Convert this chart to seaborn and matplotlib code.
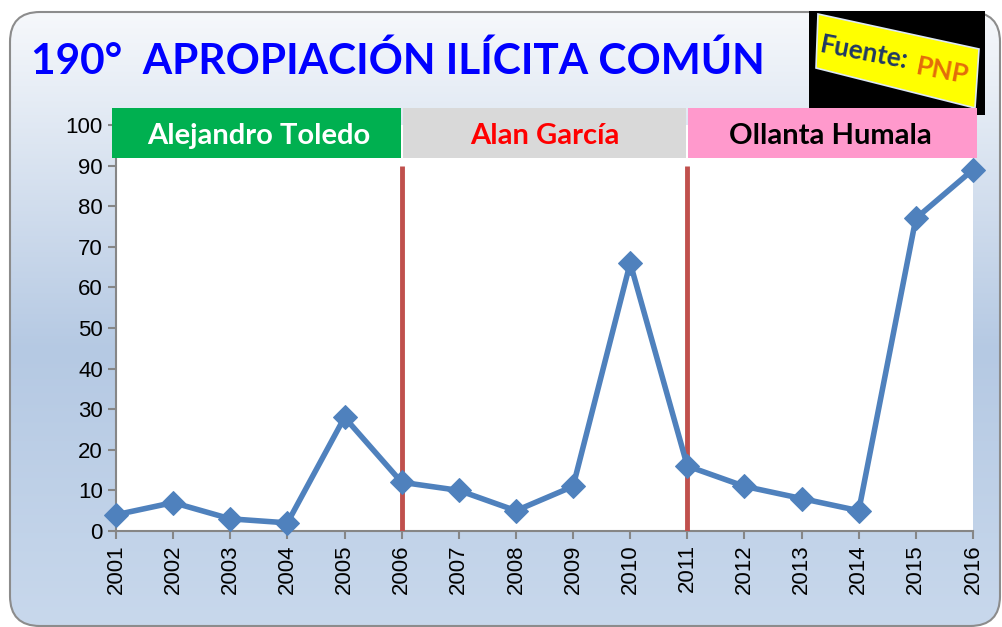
import matplotlib.pyplot as plt
import numpy as np
import pandas
import seaborn as sns
from matplotlib.colors import LinearSegmentedColormap
from matplotlib.patches import FancyBboxPatch, Polygon, Rectangle

sns.set_style("white")
plt.rcParams["font.family"] = ["Lato", "DejaVu Sans"]

YEARS = [2001, 2002, 2003, 2004, 2005, 2006, 2007, 2008,
         2009, 2010, 2011, 2012, 2013, 2014, 2015, 2016]
CASES = [4, 7, 3, 2, 28, 12, 10, 5, 11, 66, 16, 11, 8, 5, 77, 89]

TITLE = "190°  APROPIACIÓN ILÍCITA COMÚN"
PRESIDENTS = ["Alejandro Toledo", "Alan García", "Ollanta Humala"]
TERM_START = [2001, 2006, 2011]
TERM_END = [2006, 2011, 2016]
BANNER_FILL = ["#00b050", "#d9d9d9", "#ff99cc"]
BANNER_TEXT = ["white", "#ff0000", "black"]
CHANGE_YEARS = [2006, 2011]

W, H = 1003, 627
df = pandas.DataFrame({"year": YEARS, "cases": CASES})

fig = plt.figure(figsize=(W / 100, H / 100), dpi=100)
fig.patch.set_facecolor("white")

# background panel with gradient, in pixel coords
bg = fig.add_axes([0, 0, 1, 1], zorder=0)
bg.set_xlim(0, W)
bg.set_ylim(H, 0)
bg.axis("off")
grad_cmap = LinearSegmentedColormap.from_list(
    "panel", [(0, "#f6f8fb"), (0.12, "#e8eef6"), (0.55, "#b5c9e3"), (1, "#c8d8ec")]
)
grad = np.linspace(0, 1, 256).reshape(-1, 1)
panel = FancyBboxPatch((10, 12), 990, 614, boxstyle="round,pad=0,rounding_size=30",
                       facecolor="none", edgecolor="#8c8c8c", linewidth=1.5)
bg.add_patch(panel)
img = bg.imshow(grad, cmap=grad_cmap, extent=(10, 1000, 626, 12), aspect="auto")
img.set_clip_path(panel)

bg.text(31, 61, TITLE, color="#0000ff", fontsize=30.5, fontweight="bold",
        va="center", ha="left")

# source badge
bg.add_patch(Rectangle((809, 11), 176, 104, facecolor="black", edgecolor="none"))
bg.add_patch(Polygon([(818, 14), (979, 49), (975, 108), (816, 68)], closed=True,
                     facecolor="#ffff00", edgecolor="#dde8f4", linewidth=1.2))
bg.text(864, 53, "Fuente:", color="#1f3864", fontsize=19, fontweight="bold",
        rotation=-11, ha="center", va="center", rotation_mode="anchor")
bg.text(942, 71, "PNP", color="#e36c0a", fontsize=19, fontweight="bold",
        rotation=-11, ha="center", va="center", rotation_mode="anchor")

# main chart
ax = fig.add_axes([116 / W, 1 - 531 / H, 857 / W, 406 / H], zorder=2)
ax.set_facecolor("white")
sns.lineplot(data=df, x="year", y="cases", ax=ax, color="#4f81bd", linewidth=4,
             marker="D", markersize=12, markeredgecolor="#4f81bd", clip_on=False, zorder=4)
ax.vlines(CHANGE_YEARS, 0, 90, color="#c0504d", linewidth=3.5, zorder=3)

ax.set_xlim(2001, 2016)
ax.set_ylim(0, 100)
ax.set_xticks(YEARS)
ax.set_xticklabels([str(y) for y in YEARS], rotation=90, family="Liberation Sans")
ax.set_yticks(range(0, 101, 10))
ax.set_yticklabels([str(v) for v in range(0, 101, 10)], family="Liberation Sans")
ax.set_xlabel("")
ax.set_ylabel("")
ax.tick_params(axis="both", labelsize=16, colors="black", length=6, width=1.5,
               color="#868686", direction="out", left=True, bottom=True)
for side in ["top", "right"]:
    ax.spines[side].set_visible(False)
for side in ["left", "bottom"]:
    ax.spines[side].set_color("#868686")
    ax.spines[side].set_linewidth(1.5)

# president banners
n = len(PRESIDENTS)
for i, (name, x0, x1, fill, tcol) in enumerate(zip(PRESIDENTS, TERM_START, TERM_END,
                                                    BANNER_FILL, BANNER_TEXT)):
    left = x0 - 0.07 if i == 0 else x0 + 0.02
    right = x1 + 0.07 if i == n - 1 else x1 - 0.02
    ax.add_patch(Rectangle((left, 91.9), right - left, 12.3, facecolor=fill,
                           edgecolor="none", clip_on=False, zorder=5))
    ax.text((x0 + x1) / 2, 97.3, name, color=tcol, fontsize=21, fontweight="bold",
            ha="center", va="center", zorder=6, clip_on=False)

plt.savefig("out.png", dpi=100)
plt.close()
